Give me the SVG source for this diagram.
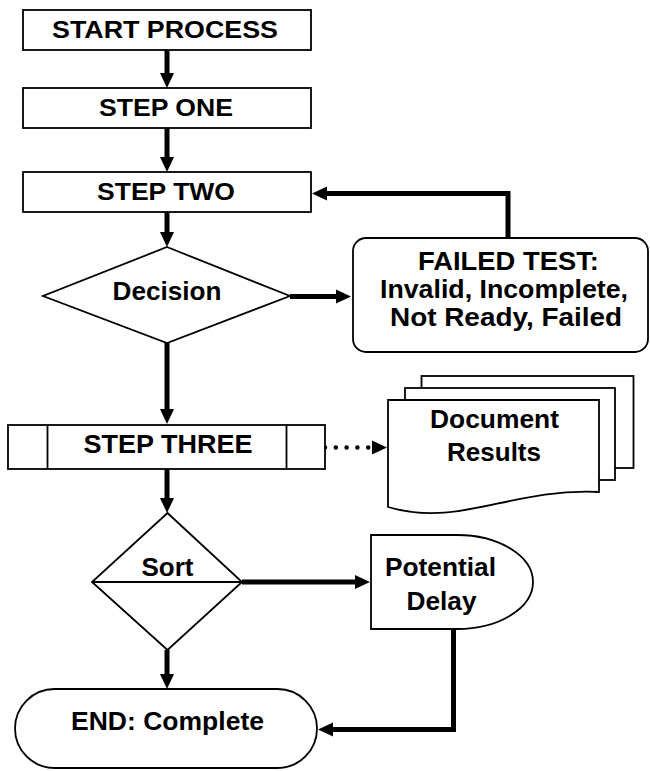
<svg xmlns="http://www.w3.org/2000/svg" width="650" height="771" viewBox="0 0 650 771">
  <style>
    .shape { fill: #ffffff; stroke: #000000; stroke-width: 1.8; }
    .line { fill: none; stroke: #000000; stroke-width: 1.8; }
    .flow { fill: none; stroke: #000000; stroke-width: 5; }
    .dots { fill: none; stroke: #000000; stroke-width: 4.5; stroke-linecap: round; stroke-dasharray: 0 10.8; }
    .head { fill: #000000; }
    text { font-family: "Liberation Sans", Arial, sans-serif; font-weight: bold; fill: #000000; text-anchor: middle; }
    .t24 { font-size: 24px; }
    .t26 { font-size: 26px; }
  </style>
  <rect width="650" height="771" fill="#ffffff"/>

  <!-- connectors -->
  <g id="connectors">
    <!-- start -> step one -->
    <line class="flow" x1="167" y1="50" x2="167" y2="74"/>
    <polygon class="head" points="160,73 174,73 167,88"/>
    <!-- step one -> step two -->
    <line class="flow" x1="167" y1="128" x2="167" y2="158"/>
    <polygon class="head" points="160,157 174,157 167,172"/>
    <!-- step two -> decision -->
    <line class="flow" x1="167" y1="212" x2="167" y2="233"/>
    <polygon class="head" points="160,232 174,232 167,247"/>
    <!-- decision -> failed test -->
    <line class="flow" x1="290" y1="296.5" x2="337" y2="296.5"/>
    <polygon class="head" points="336,289.5 336,303.5 351,296.5"/>
    <!-- failed test -> back to step two -->
    <polyline class="flow" points="508,238 508,193.5 326,193.5"/>
    <polygon class="head" points="327,186.5 327,200.5 312,193.5"/>
    <!-- decision -> step three -->
    <line class="flow" x1="167" y1="343" x2="167" y2="410"/>
    <polygon class="head" points="160,409 174,409 167,424"/>
    <!-- step three -> document results (dotted) -->
    <line class="dots" x1="325" y1="447.5" x2="369" y2="447.5"/>
    <polygon class="head" points="372,440.5 372,454.5 387,447.5"/>
    <!-- step three -> sort -->
    <line class="flow" x1="167" y1="469" x2="167" y2="499"/>
    <polygon class="head" points="160,498 174,498 167,513"/>
    <!-- sort -> potential delay -->
    <line class="flow" x1="242" y1="582" x2="356" y2="582"/>
    <polygon class="head" points="355,575 355,589 370,582"/>
    <!-- sort -> end -->
    <line class="flow" x1="167" y1="650" x2="167" y2="675"/>
    <polygon class="head" points="160,674 174,674 167,689"/>
    <!-- potential delay -> end -->
    <polyline class="flow" points="453.5,629 453.5,729.5 332,729.5"/>
    <polygon class="head" points="333,722.5 333,736.5 318,729.5"/>
  </g>

  <g id="start">
    <rect class="shape" x="23" y="10" width="288" height="40"/>
    <text class="t24" x="165" y="38" textLength="226" lengthAdjust="spacingAndGlyphs">START PROCESS</text>
  </g>

  <g id="step-one">
    <rect class="shape" x="23" y="88" width="288" height="40"/>
    <text class="t24" x="166" y="116" textLength="134" lengthAdjust="spacingAndGlyphs">STEP ONE</text>
  </g>

  <g id="step-two">
    <rect class="shape" x="23" y="172" width="288" height="40"/>
    <text class="t24" x="166" y="200" textLength="138" lengthAdjust="spacingAndGlyphs">STEP TWO</text>
  </g>

  <g id="decision">
    <polygon class="shape" points="167,247 290,296 167,343 43,296"/>
    <text class="t26" x="167" y="299.5" textLength="109" lengthAdjust="spacingAndGlyphs">Decision</text>
  </g>

  <g id="failed-test">
    <rect class="shape" x="353" y="238" width="295" height="114" rx="13" ry="13"/>
    <text class="t26" x="508.5" y="270" textLength="181" lengthAdjust="spacingAndGlyphs">FAILED TEST:</text>
    <text class="t26" x="504" y="297.5" textLength="248" lengthAdjust="spacingAndGlyphs">Invalid, Incomplete,</text>
    <text class="t26" x="506" y="325.5" textLength="232" lengthAdjust="spacingAndGlyphs">Not Ready, Failed</text>
  </g>

  <g id="step-three">
    <rect class="shape" x="8" y="425" width="317" height="44"/>
    <line class="line" x1="47.5" y1="425" x2="47.5" y2="469"/>
    <line class="line" x1="286.5" y1="425" x2="286.5" y2="469"/>
    <text class="t26" x="168" y="453" textLength="169" lengthAdjust="spacingAndGlyphs">STEP THREE</text>
  </g>

  <g id="document-results">
    <rect class="shape" x="421.5" y="376" width="212" height="92"/>
    <rect class="shape" x="405" y="388" width="210" height="92"/>
    <path class="shape" d="M388,400 H599 V492 C510,488 460,528 388,507 Z"/>
    <text class="t26" x="494.5" y="427.5" textLength="129" lengthAdjust="spacingAndGlyphs">Document</text>
    <text class="t26" x="494" y="461" textLength="94" lengthAdjust="spacingAndGlyphs">Results</text>
  </g>

  <g id="sort">
    <polygon class="shape" points="167.5,513 242,582 167.5,650 92,582"/>
    <line class="line" x1="92" y1="582" x2="242" y2="582"/>
    <text class="t26" x="167.5" y="575.5" textLength="52" lengthAdjust="spacingAndGlyphs">Sort</text>
  </g>

  <g id="potential-delay">
    <path class="shape" d="M371,535 H457 A76,47 0 0 1 457,629 H371 Z"/>
    <text class="t26" x="440.5" y="575.5" textLength="111" lengthAdjust="spacingAndGlyphs">Potential</text>
    <text class="t26" x="441.5" y="609.5" textLength="70" lengthAdjust="spacingAndGlyphs">Delay</text>
  </g>

  <g id="end">
    <rect class="shape" x="15" y="689" width="302" height="79" rx="39.5" ry="39.5"/>
    <text class="t26" x="167.5" y="730" textLength="193" lengthAdjust="spacingAndGlyphs">END: Complete</text>
  </g>
</svg>
